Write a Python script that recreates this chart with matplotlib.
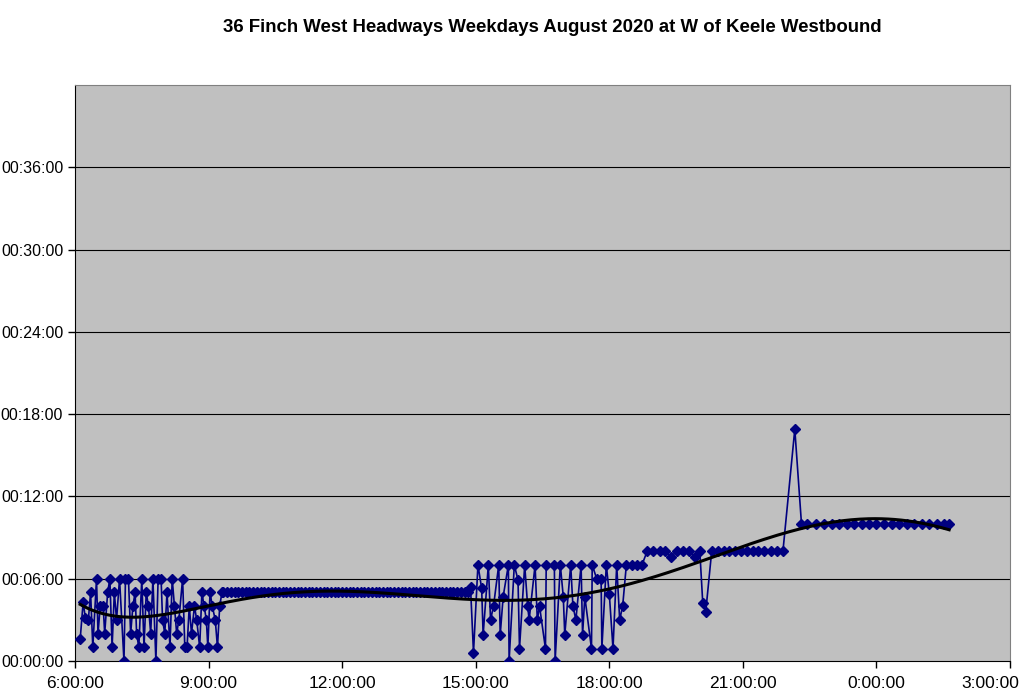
import matplotlib
matplotlib.use("Agg")
import matplotlib.pyplot as plt
import matplotlib.transforms as mtransforms
import numpy as np

plt.rcParams["font.family"] = ["Liberation Sans", "DejaVu Sans"]

TITLE = "36 Finch West Headways Weekdays August 2020 at W of Keele Westbound"

# departure time (minutes after midnight, >1440 = after midnight next day)
# and headway in minutes
morning_times = [367, 371, 374, 378, 381, 384, 389, 391, 394, 398, 400, 404,
                 407, 410, 413, 416, 420, 426, 428, 432, 435, 438, 441, 443,
                 446, 450, 453, 456, 459, 462, 465, 469, 472, 476, 478, 481,
                 484, 488, 491, 494, 497, 500, 505, 508, 511, 514, 517, 521,
                 524, 528, 531, 534, 537, 539, 542, 545, 549, 552, 555, 558]
morning_headways = [1.6, 4.3, 3.1, 3.0, 5.0, 1.0, 6.0, 2.0, 4.0, 4.0, 2.0, 5.0,
                    6.0, 1.0, 5.0, 3.0, 6.0, 0.0, 6.0, 6.0, 2.0, 4.0, 5.0, 2.0,
                    1.0, 6.0, 1.0, 5.0, 4.0, 2.0, 6.0, 0.0, 6.0, 6.0, 3.0, 2.0,
                    5.0, 1.0, 6.0, 4.0, 2.0, 3.0, 6.0, 1.0, 1.0, 4.0, 2.0, 4.0,
                    3.0, 1.0, 5.0, 4.0, 3.0, 1.0, 5.0, 4.0, 3.0, 1.0, 4.0, 5.0]

midday_times = [560, 565, 570, 575, 580, 585, 590, 595, 600, 605, 610, 615,
                620, 625, 630, 635, 640, 645, 650, 655, 660, 665, 670, 675,
                680, 685, 690, 695, 700, 705, 710, 715, 720, 725, 730, 735,
                740, 745, 750, 755, 760, 765, 770, 775, 780, 785, 790, 795,
                800, 805, 810, 815, 820, 825, 830, 835, 840, 845, 850, 855,
                860, 865, 870, 875, 880, 885, 890]
midday_headways = [5.0, 5.0, 5.0, 5.0, 5.0, 5.0, 5.0, 5.0, 5.0, 5.0, 5.0, 5.0,
                   5.0, 5.0, 5.0, 5.0, 5.0, 5.0, 5.0, 5.0, 5.0, 5.0, 5.0, 5.0,
                   5.0, 5.0, 5.0, 5.0, 5.0, 5.0, 5.0, 5.0, 5.0, 5.0, 5.0, 5.0,
                   5.0, 5.0, 5.0, 5.0, 5.0, 5.0, 5.0, 5.0, 5.0, 5.0, 5.0, 5.0,
                   5.0, 5.0, 5.0, 5.0, 5.0, 5.0, 5.0, 5.0, 5.0, 5.0, 5.0, 5.0,
                   5.0, 5.0, 5.0, 5.0, 5.0, 5.0, 5.0]

afternoon_times = [893, 897, 903, 908, 910, 917, 920, 924, 931, 933, 937, 944,
                   945, 952, 957, 959, 966, 970, 972, 980, 983, 986, 994, 995,
                   1006, 1007, 1014, 1018, 1020, 1028, 1031, 1035, 1042, 1044,
                   1047, 1056, 1057, 1063, 1069, 1070, 1076, 1080, 1085, 1090,
                   1094, 1098, 1103, 1110, 1117, 1124]
afternoon_headways = [5.4, 0.6, 7.0, 5.3, 1.9, 7.0, 3.0, 4.0, 7.0, 1.9, 4.7, 7.0,
                      0.0, 7.0, 5.9, 0.9, 7.0, 4.0, 3.0, 7.0, 3.0, 4.0, 0.9, 7.0,
                      7.0, 0.0, 7.0, 4.7, 1.9, 7.0, 4.0, 3.0, 7.0, 1.9,
                      4.7, 0.9, 7.0, 6.0, 6.0, 0.9, 7.0, 4.9, 0.9, 7.0,
                      3.0, 4.0, 7.0, 7.0, 7.0, 7.0]

evening_times = [1131, 1139, 1148, 1155, 1163, 1171, 1179, 1187, 1196, 1202,
                 1206, 1210, 1218, 1226, 1234, 1242, 1250, 1257, 1265, 1273,
                 1281, 1289, 1298, 1306, 1314, 1330]
evening_headways = [8.0, 8.0, 8.0, 8.0, 7.6, 8.0, 8.0, 8.0, 7.6, 8.0,
                    4.2, 3.6, 8.0, 8.0, 8.0, 8.0, 8.0, 8.0, 8.0, 8.0,
                    8.0, 8.0, 8.0, 8.0, 8.0, 16.9]

night_times = [1339, 1347, 1359, 1369, 1380, 1390, 1400, 1410, 1420, 1430,
               1440, 1450, 1461, 1471, 1481, 1491, 1501, 1511, 1521, 1531,
               1538]
night_headways = [10.0, 10.0, 10.0, 10.0, 10.0, 10.0, 10.0, 10.0, 10.0, 10.0,
                  10.0, 10.0, 10.0, 10.0, 10.0, 10.0, 10.0, 10.0, 10.0, 10.0,
                  10.0]

x_ticks = [6, 9, 12, 15, 18, 21, 24, 27]
x_labels = ["6:00:00", "9:00:00", "12:00:00", "15:00:00", "18:00:00",
            "21:00:00", "0:00:00", "3:00:00"]
y_ticks = [0, 6, 12, 18, 24, 30, 36]
y_labels = ["00:00:00", "00:06:00", "00:12:00", "00:18:00", "00:24:00",
            "00:30:00", "00:36:00"]

times = np.array(morning_times + midday_times + afternoon_times
                 + evening_times + night_times) / 60.0
headways = np.array(morning_headways + midday_headways + afternoon_headways
                    + evening_headways + night_headways)

fig = plt.figure(figsize=(10.24, 6.94), dpi=100)
ax = fig.add_axes([75 / 1024, 33 / 694, 935 / 1024, 576 / 694])
ax.set_facecolor("#c0c0c0")

for y in y_ticks[1:]:
    ax.axhline(y, color="black", linewidth=0.8, zorder=1)

ax.plot(times, headways, color="#000080", linewidth=1.2, marker="D",
        markersize=5, markerfacecolor="#000080", markeredgecolor="#000080",
        zorder=3)

# 6th order polynomial trend line, like the spreadsheet's
coef = np.polyfit(times - 16, headways, 6)
tx = np.linspace(times.min(), times.max(), 400)
ax.plot(tx, np.polyval(coef, tx - 16), color="black", linewidth=2.2, zorder=4)

ax.set_xlim(6, 27)
ax.set_ylim(0, 42)
ax.set_xticks(x_ticks)
ax.set_xticklabels(x_labels, fontsize=12.5)
ax.set_yticks(y_ticks)
ax.set_yticklabels(y_labels, fontsize=11.5)
ax.tick_params(axis="both", direction="out", length=5, width=1, color="black")
ax.tick_params(axis="x", pad=6)

# the last label is pulled inside the picture, as in the spreadsheet export
last = ax.get_xticklabels()[-1]
last.set_transform(last.get_transform()
                   + mtransforms.ScaledTranslation(-0.2, 0, fig.dpi_scale_trans))

for side in ["top", "right"]:
    ax.spines[side].set_color("#808080")
for side in ["left", "bottom"]:
    ax.spines[side].set_color("black")

fig.text(0.539, 0.961, TITLE, ha="center", va="center", fontsize=13.4,
         fontweight="bold")

fig.savefig("out.png", dpi=100, facecolor="white")
